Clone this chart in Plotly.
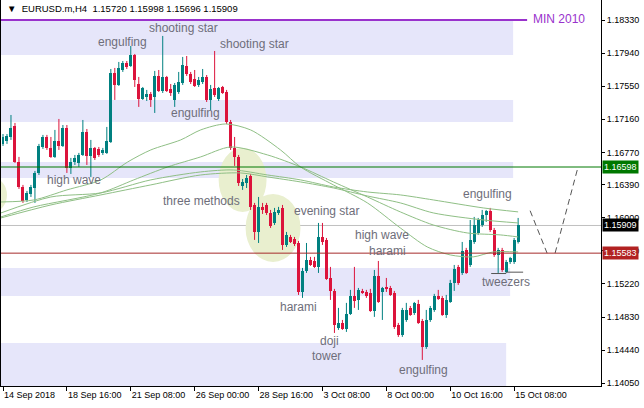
import plotly.graph_objects as go

# ---------------- data (EURUSD.m, H4) ----------------
idx = list(range(130))
open_ = [1.16870,1.16905,1.16952,1.17082,1.16658,1.16363,1.16210,1.16281,1.16351,1.16528,
         1.16834,1.16952,1.16823,1.16717,1.16905,1.16846,1.17058,1.16587,1.16658,1.16646,
         1.16740,1.17011,1.16728,1.16823,1.16811,1.16764,1.16764,1.16893,1.17706,1.17565,
         1.17741,1.17824,1.17789,1.17918,1.17576,1.17400,1.17423,1.17459,1.17423,1.17671,
         1.17494,1.17659,1.17518,1.17388,1.17482,1.17588,1.17789,1.17694,1.17635,1.17565,
         1.17600,1.17659,1.17388,1.17529,1.17400,1.17541,1.17482,1.17129,1.16823,1.16717,
         1.16375,1.16410,1.16493,1.16151,1.15833,1.16128,1.16151,1.16057,1.15939,1.16057,
         1.16116,1.15680,1.15774,1.15751,1.15703,1.15126,1.15374,1.15503,1.15491,1.15421,
         1.15774,1.15739,1.15291,1.15138,1.14702,1.14761,1.14690,1.14867,1.15079,1.15032,
         1.15138,1.15126,1.15114,1.14902,1.15315,1.15126,1.15185,1.15173,1.15114,1.14737,
         1.14620,1.14796,1.14938,1.14879,1.14985,1.14785,1.14478,1.14796,1.14914,1.15079,
         1.15056,1.14855,1.15008,1.15232,1.15421,1.15350,1.15621,1.15444,1.15715,1.15821,
         1.15915,1.16033,1.16080,1.15857,1.15562,1.15621,1.15362,1.15480,1.15480,1.15720]
high = [1.16987,1.16987,1.17211,1.17117,1.16717,1.16387,1.16316,1.16387,1.16552,1.16870,
        1.16976,1.16976,1.16952,1.17035,1.17164,1.17093,1.17093,1.16705,1.16740,1.16764,
        1.17152,1.17046,1.16917,1.16834,1.16834,1.16823,1.17070,1.17753,1.17765,1.17836,
        1.17847,1.17847,1.18024,1.17930,1.17659,1.17541,1.17506,1.17482,1.17730,1.17741,
        1.18142,1.17671,1.17576,1.17588,1.17718,1.17895,1.17906,1.17718,1.17741,1.17659,
        1.17753,1.17682,1.17565,1.17965,1.17541,1.17553,1.17506,1.17152,1.16952,1.16740,
        1.16457,1.16504,1.16516,1.16175,1.16245,1.16175,1.16175,1.16092,1.16116,1.16128,
        1.16151,1.15833,1.15798,1.15774,1.15727,1.15409,1.15703,1.15539,1.15539,1.15939,
        1.15939,1.15762,1.15421,1.15162,1.14938,1.14796,1.14997,1.15150,1.15421,1.15173,
        1.15162,1.15150,1.15162,1.15385,1.15491,1.15185,1.15291,1.15197,1.15138,1.14761,
        1.14938,1.14997,1.14961,1.15008,1.15032,1.14808,1.14914,1.14961,1.15103,1.15150,
        1.15079,1.15091,1.15268,1.15444,1.15444,1.15715,1.15645,1.15974,1.16010,1.15998,
        1.16092,1.16092,1.16116,1.15880,1.15645,1.15645,1.15503,1.15539,1.15762,1.15998]
low = [1.16846,1.16870,1.16917,1.16646,1.16340,1.16175,1.16186,1.16245,1.16175,1.16504,
       1.16811,1.16799,1.16705,1.16705,1.16799,1.16834,1.16528,1.16516,1.16622,1.16599,
       1.16728,1.16622,1.16481,1.16681,1.16717,1.16740,1.16752,1.16881,1.17388,1.17553,
       1.17718,1.17753,1.17777,1.17541,1.17306,1.17388,1.17376,1.17306,1.17235,1.17482,
       1.17470,1.17482,1.17435,1.17306,1.17459,1.17565,1.17671,1.17576,1.17541,1.17541,
       1.17576,1.17364,1.17270,1.17423,1.17376,1.17459,1.17105,1.16799,1.16611,1.16375,
       1.16328,1.16351,1.16092,1.15739,1.15703,1.16045,1.16033,1.15880,1.15915,1.16033,
       1.15621,1.15656,1.15703,1.15668,1.15091,1.15056,1.15350,1.15433,1.15409,1.15350,
       1.15680,1.15268,1.15032,1.14643,1.14679,1.14679,1.14655,1.14855,1.14938,1.14914,
       1.15103,1.15056,1.14891,1.14832,1.14997,1.14796,1.15126,1.15079,1.14690,1.14596,
       1.14596,1.14773,1.14844,1.14855,1.14749,1.14325,1.14455,1.14773,1.14891,1.15032,
       1.14844,1.14820,1.14997,1.15138,1.15209,1.15326,1.15338,1.15421,1.15692,1.15798,
       1.15892,1.15951,1.15833,1.15539,1.15350,1.15362,1.15350,1.15456,1.15456,1.15696]
close = [1.16952,1.16964,1.17058,1.16658,1.16363,1.16198,1.16292,1.16363,1.16528,1.16846,
         1.16952,1.16823,1.16717,1.16905,1.16846,1.17058,1.16587,1.16658,1.16705,1.16740,
         1.17011,1.16728,1.16823,1.16705,1.16740,1.16799,1.16905,1.17706,1.17565,1.17765,
         1.17824,1.17777,1.17918,1.17624,1.17400,1.17529,1.17459,1.17388,1.17671,1.17494,
         1.17659,1.17494,1.17470,1.17565,1.17600,1.17800,1.17694,1.17600,1.17553,1.17624,
         1.17659,1.17388,1.17518,1.17447,1.17529,1.17470,1.17129,1.16823,1.16717,1.16410,
         1.16422,1.16469,1.16128,1.15833,1.16128,1.16092,1.16057,1.15904,1.16069,1.16092,
         1.15680,1.15798,1.15715,1.15692,1.15126,1.15374,1.15503,1.15444,1.15421,1.15774,
         1.15715,1.15279,1.15138,1.14737,1.14761,1.14690,1.14867,1.15079,1.15020,1.15150,
         1.15114,1.15079,1.14902,1.15315,1.15008,1.15173,1.15162,1.15091,1.14714,1.14620,
         1.14914,1.14914,1.14855,1.14997,1.14761,1.14478,1.14796,1.14938,1.15079,1.15044,
         1.14855,1.15032,1.15232,1.15397,1.15232,1.15609,1.15350,1.15739,1.15915,1.15974,
         1.16033,1.16080,1.15857,1.15562,1.15621,1.15385,1.15480,1.15527,1.15739,1.15909]

# moving averages (candle index, price)
ma1_idx = [-0.5, 7.75, 16, 24.5, 31.25, 37, 44.5, 49.5, 55.75, 62, 69.5, 74.5, 82.75, 91.25, 99.5, 106.25, 112, 117.75, 122.75, 129]
ma1_val = [1.16186, 1.16210, 1.16328, 1.16446, 1.16658, 1.16799, 1.16917, 1.17035, 1.17105, 1.17035,
           1.16799, 1.16599, 1.16387, 1.16175, 1.15880, 1.15656, 1.15562, 1.15539, 1.15597, 1.15597]
ma2_idx = [-0.5, 7.75, 24.5, 32.75, 41.25, 49.5, 57, 66.25, 74.5, 82.75, 91.25, 99.5, 107.75, 116.25, 124.5, 129]
ma2_val = [1.16010, 1.16128, 1.16293, 1.16446, 1.16599, 1.16717, 1.16834, 1.16740, 1.16599, 1.16422,
           1.16245, 1.16069, 1.15915, 1.15821, 1.15798, 1.15774]
ma3_idx = [-0.5, 12, 24.5, 37, 49.5, 57.75, 66.25, 74.5, 82.75, 91.25, 99.5, 107.75, 120.25, 129]
ma3_val = [1.16057, 1.16245, 1.16293, 1.16446, 1.16540, 1.16563, 1.16504, 1.16446, 1.16363, 1.16304,
           1.16269, 1.16210, 1.16116, 1.16069]
ma4_idx = [-0.5, 12, 24.5, 37, 49.5, 59.5, 66.25, 74.5, 82.75, 91.25, 99.5, 107.75, 120.25, 129]
ma4_val = [1.15998, 1.16151, 1.16269, 1.16387, 1.16504, 1.16528, 1.16481, 1.16422, 1.16351, 1.16257,
           1.16175, 1.16057, 1.15974, 1.15939]

# support / resistance zones: (low, high, last candle index)
zone_lo = [1.17918, 1.17128, 1.16468, 1.15078, 1.14018]
zone_hi = [1.18330, 1.17387, 1.16657, 1.15408, 1.14524]
zone_end = [127.75, 127.75, 127.75, 127.0, 126.0]

# pattern ellipses: (x0, x1, y0, y1)
ell_x0 = [-6.0, 54.0, 60.75]
ell_x1 = [1.0, 66.0, 74.5]
ell_y0 = [1.16069, 1.16069, 1.15480]
ell_y1 = [1.16469, 1.16823, 1.16281]

level_min2010 = 1.18330
level_green = 1.16598
level_red = 1.15583
level_bid = 1.15909

# projected path (dashed)
proj_idx = [132.0, 136.25, 138.25, 144.0]
proj_val = [1.16083, 1.15583, 1.15583, 1.16598]
tweez_idx = [122.25, 126.0, 130.25]
tweez_val = [1.15343, 1.15359]

# pattern labels
lab_text = ["engulfing", "shooting star", "shooting star", "engulfing", "high wave", "three methods",
            "evening star", "high wave", "harami", "harami", "doji", "tower", "engulfing",
            "engulfing", "tweezers"]
lab_x = [30, 45.1, 63.1, 48.25, 17.9, 49.6, 81.1, 94.9, 96.25, 74.1, 81.75, 81.1, 105.25, 121.25, 125.9]
lab_y = [1.18071, 1.18236, 1.18047, 1.17234, 1.16445, 1.16197, 1.16080, 1.15797, 1.15608, 1.14949,
         1.14548, 1.14371, 1.14206, 1.16280, 1.15243]

price_ticks = [1.18330, 1.17940, 1.17550, 1.17160, 1.16770, 1.16390, 1.16000, 1.15610,
               1.15220, 1.14830, 1.14440, 1.14050]
date_pos = [0, 16, 32, 48, 64, 80, 96, 112, 128]
date_lab = ["14 Sep 2018", "18 Sep 16:00", "21 Sep 08:00", "26 Sep 00:00", "28 Sep 16:00",
            "3 Oct 08:00", "8 Oct 00:00", "10 Oct 16:00", "15 Oct 08:00"]

header = "▼  EURUSD.m,H4  1.15720 1.15998 1.15696 1.15909"

# ---------------- styles ----------------
UP = "#008080"
DN = "#dc143c"
MA_COL = "#8fbf85"
LAB_COL = "#6e6e7a"
ZONE_COL = "#e6e6fa"
ELL_COL = "#e9efcf"
FONT = "Liberation Sans"

fig = go.Figure()

# candle wicks + bodies
base = [min(o, c) for o, c in zip(open_, close)]
length = [max(abs(c - o), 0.00003) for o, c in zip(open_, close)]
cols = [UP if c >= o else DN for o, c in zip(open_, close)]
for col in (UP, DN):
    wx, wy = [], []
    for i, o, h, l, c in zip(idx, open_, high, low, close):
        if (UP if c >= o else DN) == col:
            wx += [i, i, None]
            wy += [l, h, None]
    fig.add_trace(go.Scatter(x=wx, y=wy, mode="lines", line=dict(color=col, width=1),
                             hoverinfo="skip", showlegend=False))
fig.add_trace(go.Bar(x=idx, y=length, base=base, width=0.75,
                     marker=dict(color=cols, line=dict(width=0)),
                     hoverinfo="skip", showlegend=False))

for mx, my in ((ma1_idx, ma1_val), (ma2_idx, ma2_val), (ma3_idx, ma3_val), (ma4_idx, ma4_val)):
    fig.add_trace(go.Scatter(x=mx, y=my, mode="lines",
                             line=dict(color=MA_COL, width=1, shape="spline", smoothing=0.8),
                             hoverinfo="skip", showlegend=False))

# projection & tweezers
fig.add_trace(go.Scatter(x=proj_idx[:2], y=proj_val[:2], mode="lines",
                         line=dict(color="#555555", width=1, dash="6px,4px"), showlegend=False, hoverinfo="skip"))
fig.add_trace(go.Scatter(x=proj_idx[2:], y=proj_val[2:], mode="lines",
                         line=dict(color="#555555", width=1, dash="6px,4px"), showlegend=False, hoverinfo="skip"))
fig.add_trace(go.Scatter(x=[tweez_idx[0], tweez_idx[1], None, tweez_idx[1], tweez_idx[2]],
                         y=[tweez_val[0], tweez_val[0], None, tweez_val[1], tweez_val[1]], mode="lines",
                         line=dict(color="#555555", width=1), showlegend=False, hoverinfo="skip"))

shapes = []
for lo, hi, xe in zip(zone_lo, zone_hi, zone_end):
    shapes.append(dict(type="rect", xref="x", yref="y", x0=-0.5, x1=xe, y0=lo, y1=hi,
                       fillcolor=ZONE_COL, line=dict(width=0), layer="below"))
for x0, x1, y0, y1 in zip(ell_x0, ell_x1, ell_y0, ell_y1):
    shapes.append(dict(type="circle", xref="x", yref="y", x0=x0, x1=x1, y0=y0, y1=y1,
                       fillcolor=ELL_COL, line=dict(width=0), layer="below"))
shapes.append(dict(type="line", xref="x", yref="y", x0=-0.5, x1=131.25, y0=level_min2010, y1=level_min2010,
                   line=dict(color="#9932cc", width=2)))
shapes.append(dict(type="line", xref="paper", yref="y", x0=0, x1=1, y0=level_green, y1=level_green,
                   line=dict(color="#007800", width=1)))
shapes.append(dict(type="line", xref="paper", yref="y", x0=0, x1=1, y0=level_red, y1=level_red,
                   line=dict(color="#a52a2a", width=1)))
shapes.append(dict(type="line", xref="paper", yref="y", x0=0, x1=1, y0=level_bid, y1=level_bid,
                   line=dict(color="#c0c0c0", width=1), layer="below"))

ann = []
for t, x, y in zip(lab_text, lab_x, lab_y):
    ann.append(dict(text=t, x=x, y=y, xref="x", yref="y", showarrow=False,
                    font=dict(family=FONT, size=12, color=LAB_COL)))
ann.append(dict(text="MIN 2010", x=139.25, y=1.18342, xref="x", yref="y", showarrow=False,
                font=dict(family=FONT, size=12, color="#9932cc")))
ann.append(dict(text=header, x=0.006, y=0.997, xref="paper", yref="paper", xanchor="left", yanchor="top",
                showarrow=False, font=dict(family=FONT, size=9.5, color="#000000")))
for val, bg in ((level_green, "#007800"), (level_bid, "#000000"), (level_red, "#b22222")):
    ann.append(dict(text=f"{val:.5f}", x=1, y=val, xref="paper", yref="y", xanchor="left", yanchor="middle",
                    showarrow=False, bgcolor=bg, borderpad=1, xshift=1,
                    font=dict(family=FONT, size=9, color="#ffffff")))

fig.update_layout(
    width=644, height=408,
    margin=dict(l=1, r=43, t=0, b=22, autoexpand=False),
    paper_bgcolor="white", plot_bgcolor="white",
    shapes=shapes, annotations=ann, bargap=0, showlegend=False,
    xaxis=dict(range=[-0.5, 149.75], showgrid=False, zeroline=False, showline=True, linecolor="black",
               linewidth=1, ticks="outside", ticklen=4, tickcolor="black",
               tickvals=date_pos, ticktext=date_lab, ticklabelposition="outside right",
               tickfont=dict(family=FONT, size=9, color="black")),
    yaxis=dict(range=[1.140178, 1.185656], side="right", showgrid=False, zeroline=False, showline=True,
               mirror=True, linecolor="black", linewidth=1, ticks="outside", ticklen=3, tickcolor="black",
               tickvals=price_ticks, ticktext=[f"{v:.5f}" for v in price_ticks],
               tickfont=dict(family=FONT, size=9, color="black")),
)

fig.write_html("out.html", config={"displayModeBar": False, "staticPlot": True},
               post_script="document.body.style.margin='0';document.body.style.padding='0';")
